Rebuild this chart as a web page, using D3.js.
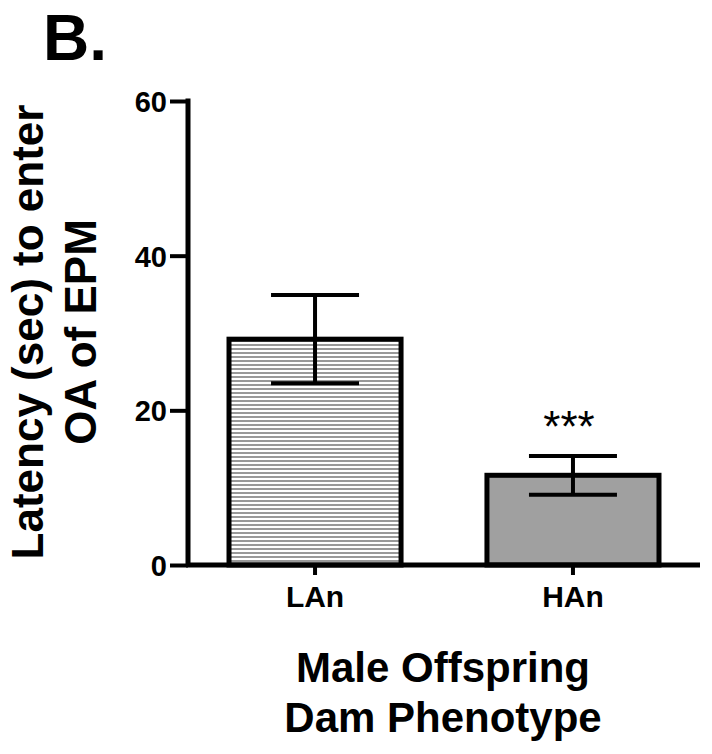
<!DOCTYPE html>
<html><head><meta charset="utf-8">
<script src="https://cdn.jsdelivr.net/npm/d3@7"></script>
<style>body{margin:0;background:#fff;} text{font-family:"Liberation Sans",Arial,sans-serif;font-weight:bold;}</style>
</head><body>
<svg id="c" width="712" height="754"></svg>
<script>
const categories = ["LAn", "HAn"];
const means = [29.2, 11.6];
const sems = [5.7, 2.5];
const yTicks = [0, 20, 40, 60];
const sigLabels = ["", "***"];

const svg = d3.select("#c");
const x = d3.scaleBand().domain(categories).range([188, 700]).paddingInner(0.333).paddingOuter(0.159);
const y = d3.scaleLinear().domain([0, 60]).range([565, 101]);

const defs = svg.append("defs");
const pat = defs.append("pattern").attr("id","stripes").attr("patternUnits","userSpaceOnUse").attr("width",8).attr("height",4);
pat.append("rect").attr("width",8).attr("height",4).attr("fill","#fff");
pat.append("rect").attr("y",0).attr("width",8).attr("height",2).attr("fill","#999");

const fills = ["url(#stripes)", "#a0a0a0"];

// bars
svg.selectAll("rect.bar").data(categories).enter().append("rect")
  .attr("class","bar")
  .attr("x", d => x(d))
  .attr("width", x.bandwidth())
  .attr("y", (d,i) => y(means[i]))
  .attr("height", (d,i) => y(0) - y(means[i]))
  .attr("fill", (d,i) => fills[i])
  .attr("stroke", "#000").attr("stroke-width", 5);

// error bars
const cap = 88;
categories.forEach((d,i) => {
  const cx = x(d) + x.bandwidth()/2;
  const g = svg.append("g").attr("stroke","#000").attr("stroke-width",4);
  g.append("line").attr("x1",cx).attr("x2",cx).attr("y1",y(means[i]+sems[i])).attr("y2",y(means[i]-sems[i]));
  g.append("line").attr("x1",cx-cap/2).attr("x2",cx+cap/2).attr("y1",y(means[i]+sems[i])).attr("y2",y(means[i]+sems[i]));
  g.append("line").attr("x1",cx-cap/2).attr("x2",cx+cap/2).attr("y1",y(means[i]-sems[i])).attr("y2",y(means[i]-sems[i]));
  if (sigLabels[i]) {
    svg.append("text").attr("x", cx-4).attr("y", y(means[i]+sems[i]) - 14)
      .attr("text-anchor","middle").attr("font-size",44).style("font-weight","normal").text(sigLabels[i]);
  }
});

// y axis
const ya = svg.append("g").attr("transform","translate(188,0)")
  .call(d3.axisLeft(y).tickValues(yTicks).tickSize(10).tickPadding(10));
ya.select(".domain").attr("stroke-width",5).attr("d","M0,98.5V565");
ya.selectAll(".tick line").attr("stroke-width",4).attr("x2",-18).attr("x1",0);
ya.selectAll(".tick text").attr("font-size",29).attr("fill","#000").attr("x",-21).attr("dy","0.36em");

// x axis
const xa = svg.append("g").attr("transform","translate(0,565)")
  .call(d3.axisBottom(x).tickSize(10).tickPadding(12));
xa.select(".domain").attr("stroke-width",5).attr("d","M186,0H700");
xa.selectAll(".tick line").attr("stroke-width",4);
xa.selectAll(".tick text").attr("font-size",30).attr("fill","#000").attr("dy",null).attr("y",42);

// panel label
svg.append("text").attr("x",43).attr("y",60).attr("font-size",64).text("B.");

// y title
const yt = svg.append("text").attr("transform","translate(0,332) rotate(-90)").attr("text-anchor","middle").attr("font-size",44);
yt.append("tspan").attr("x",0).attr("y",43).text("Latency (sec) to enter");
yt.append("tspan").attr("x",0).attr("y",96).text("OA of EPM");

// x title
svg.append("text").attr("x",443).attr("y",682).attr("text-anchor","middle").attr("font-size",42).text("Male Offspring");
svg.append("text").attr("x",443).attr("y",732).attr("text-anchor","middle").attr("font-size",42).text("Dam Phenotype");
</script>
</body></html>
